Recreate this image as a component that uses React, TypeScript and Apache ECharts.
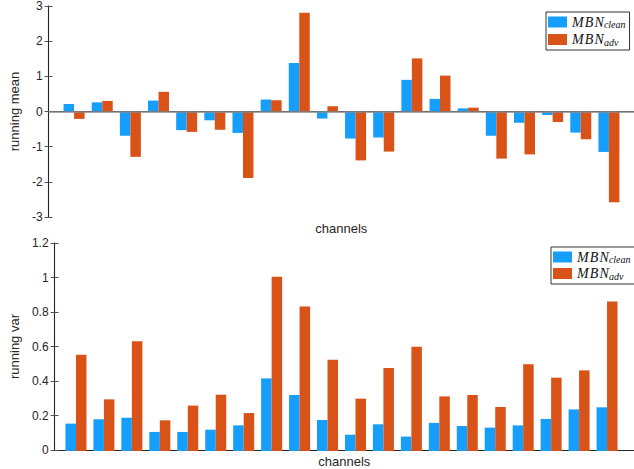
import React, { useEffect, useRef } from "react";
import * as echarts from "echarts";

const channels = ["1", "2", "3", "4", "5", "6", "7", "8", "9", "10", "11", "12", "13", "14", "15", "16", "17", "18", "19", "20"];
const meanClean = [0.21, 0.26, -0.69, 0.31, -0.53, -0.25, -0.61, 0.34, 1.38, -0.2, -0.77, -0.74, 0.9, 0.36, 0.09, -0.69, -0.32, -0.1, -0.6, -1.15];
const meanAdv = [-0.21, 0.3, -1.29, 0.56, -0.58, -0.52, -1.89, 0.32, 2.81, 0.15, -1.39, -1.14, 1.51, 1.02, 0.11, -1.34, -1.22, -0.3, -0.79, -2.58];
const varClean = [0.158, 0.183, 0.192, 0.11, 0.11, 0.123, 0.148, 0.419, 0.323, 0.179, 0.094, 0.154, 0.083, 0.162, 0.144, 0.135, 0.148, 0.185, 0.24, 0.252];
const varAdv = [0.556, 0.298, 0.633, 0.177, 0.262, 0.325, 0.219, 1.006, 0.833, 0.527, 0.302, 0.479, 0.602, 0.315, 0.323, 0.254, 0.5, 0.423, 0.465, 0.863];

const BLUE = "#169efc";
const ORANGE = "#d95319";
const FONT = "Liberation Sans, Arial, sans-serif";

export default function App() {
  const ref = useRef<HTMLDivElement>(null);
  useEffect(() => {
    if (!ref.current) return;
    const chart = echarts.init(ref.current, undefined, { renderer: "svg" });

    // grids 0,1: visible boxes; grids 2,3: bar placement
    const boxX = (gridIndex: number, pos: "bottom" | "top", withName: boolean) => ({
      type: "value" as const,
      gridIndex,
      min: 0,
      max: 1,
      position: pos,
      axisLine: { show: true, lineStyle: { color: pos === "top" ? "#262626" : "#333", width: 1 } },
      axisTick: { show: false },
      axisLabel: { show: false },
      splitLine: { show: false },
      ...(withName
        ? {
            name: "channels",
            nameLocation: "middle" as const,
            nameGap: 5,
            nameTextStyle: { fontFamily: FONT, fontSize: 13, color: "#262626", verticalAlign: "top" as const },
          }
        : {}),
    });
    const barX = (gridIndex: number) => ({
      type: "category" as const,
      gridIndex,
      data: channels,
      show: false,
    });
    const yLeft = (gridIndex: number, min: number, max: number, interval: number, name: string, fmt?: (v: number) => string) => ({
      type: "value" as const,
      gridIndex,
      min,
      max,
      interval,
      position: "left" as const,
      name,
      nameLocation: "middle" as const,
      nameGap: 24,
      nameTextStyle: { fontFamily: FONT, fontSize: 13, color: "#262626" },
      axisLine: { show: true, lineStyle: { color: "#8a8a8a", width: 1.2 } },
      axisTick: { show: true, inside: true, length: 4, lineStyle: { color: "#555" } },
      axisLabel: { fontFamily: FONT, fontSize: 12, color: "#262626", margin: 6, formatter: fmt },
      splitLine: { show: false },
    });
    const yRight = (gridIndex: number, min: number, max: number, interval: number) => ({
      type: "value" as const,
      gridIndex,
      min,
      max,
      interval,
      position: "right" as const,
      axisLine: { show: true, lineStyle: { color: "#262626" } },
      axisTick: { show: true, inside: true, length: 4, lineStyle: { color: "#555" } },
      axisLabel: { show: false },
      splitLine: { show: false },
    });
    const yHidden = (gridIndex: number, min: number, max: number) => ({
      type: "value" as const,
      gridIndex,
      min,
      max,
      show: false,
    });
    const legendFmt = (name: string) =>
      name.indexOf("clean") === 0 ? "{m|M\u200aB\u200aN}{s|clean}" : "{m|M\u200aB\u200aN}{s|adv}";
    const rich = {
      m: { fontFamily: "Liberation Serif, serif", fontStyle: "italic" as const, fontSize: 14, color: "#111" },
      s: { fontFamily: "Liberation Serif, serif", fontStyle: "italic" as const, fontSize: 10, color: "#111", padding: [5, 0, 0, 0] },
    };
    const bar = (name: string, gi: number, data: number[], color: string) => ({
      name,
      type: "bar",
      xAxisIndex: gi,
      yAxisIndex: gi,
      data,
      barWidth: 10.5,
      barGap: "0%",
      itemStyle: { color },
    });
    const legendBase = {
      orient: "vertical",
      icon: "rect",
      itemWidth: 19,
      itemHeight: 11,
      itemGap: 3,
      padding: [3, 4, 3, 2],
      borderColor: "#333",
      borderWidth: 1,
      backgroundColor: "#fff",
      formatter: legendFmt,
      textStyle: { rich },
    };
    const option = {
      animation: false,
      grid: [
        { left: 41, top: 6, height: 211, right: -2 },
        { left: 43, top: 243, height: 208, right: -2 },
        { left: 60, top: 6, height: 211, right: 11 },
        { left: 62, top: 243, height: 208, right: 13 },
      ],
      legend: [
        { ...legendBase, data: ["clean", "adv"], left: 546, top: 12 },
        { ...legendBase, data: ["clean2", "adv2"], left: 551, top: 247, itemGap: 2 },
      ],
      xAxis: [boxX(0, "bottom", true), boxX(0, "top", false), boxX(1, "bottom", true), boxX(1, "top", false), barX(2), barX(3)],
      yAxis: [
        yLeft(0, -3, 3, 1, "running mean"),
        yRight(0, -3, 3, 1),
        yLeft(1, 0, 1.2, 0.2, "running var", (v: number) => (Math.round(v * 10) / 10).toString()),
        yRight(1, 0, 1.2, 0.2),
        yHidden(2, -3, 3),
        yHidden(3, 0, 1.2),
      ],
      series: [
        {
          type: "line",
          xAxisIndex: 0,
          yAxisIndex: 0,
          data: [],
          silent: true,
          markLine: {
            silent: true,
            symbol: "none",
            label: { show: false },
            lineStyle: { color: "#8a8a8a", type: "solid", width: 1.5 },
            data: [{ yAxis: 0 }],
          },
        },
        bar("clean", 4, meanClean, BLUE),
        bar("adv", 4, meanAdv, ORANGE),
        bar("clean2", 5, varClean, BLUE),
        bar("adv2", 5, varAdv, ORANGE),
      ],
    };
    chart.setOption(option as any);
    return () => chart.dispose();
  }, []);
  return (
    <div
      ref={ref}
      style={{ position: "fixed", left: 0, top: 0, width: 634, height: 469, background: "#fff" }}
    />
  );
}
